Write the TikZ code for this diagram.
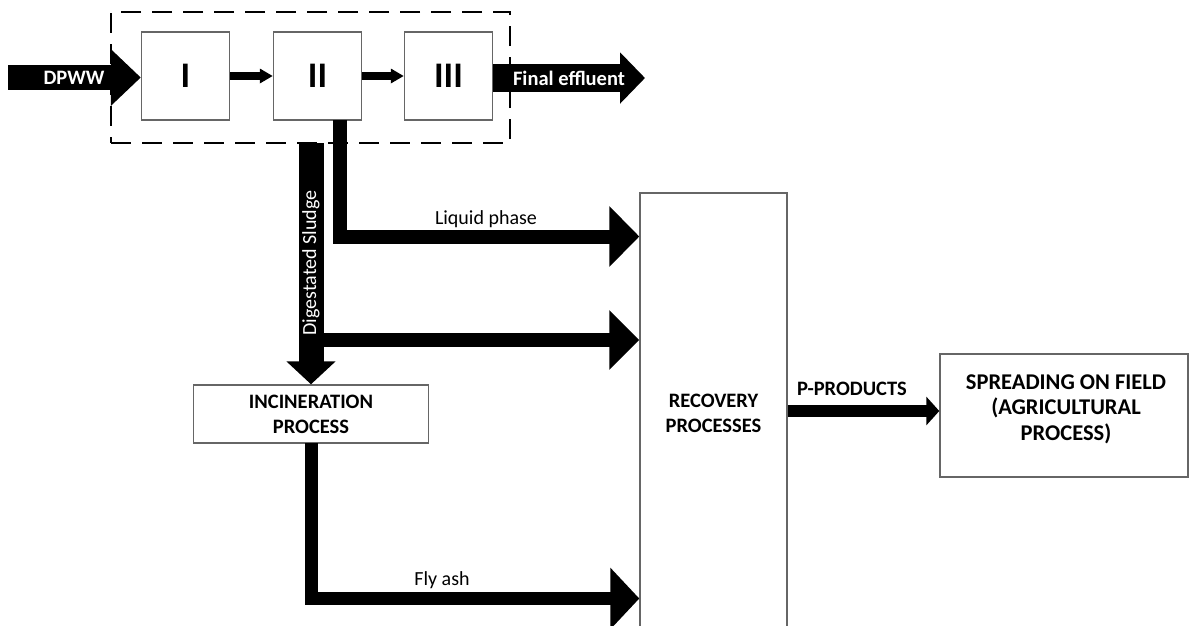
\documentclass[tikz,border=0pt]{standalone}
\usepackage{fontspec}
\setmainfont{Carlito}
\usetikzlibrary{arrows.meta,calc}
\begin{document}
\begin{tikzpicture}[x=1pt,y=-1pt,
  box/.style={draw=black!60, line width=1.4pt, fill=white, inner sep=0pt, align=center,
    font=\fontsize{20.5}{25}\selectfont\bfseries},
  roman/.style={box, minimum width=88pt, minimum height=88pt, font=\fontsize{36}{40}\selectfont\bfseries},
  lbl/.style={font=\fontsize{20}{24}\selectfont, inner sep=0pt},
  blbl/.style={font=\fontsize{20.5}{24}\selectfont\bfseries, inner sep=0pt},
  flow/.style n args={3}{draw=black, line width=#1, line join=miter,
    -{Triangle[length=#2, width=#3]}}
]
\useasboundingbox (0,0) rectangle (1190,625);

% dashed treatment frame
\node[draw=black, line width=2.5pt, dash pattern=on 20pt off 11pt, minimum width=399pt,
  minimum height=131pt, inner sep=0pt] (frame) at (310.5,77.5) {};

% process boxes
\node[roman] (b1) at (185.5,76) {I};
\node[roman] (b2) at (317.5,76) {II};
\node[roman] (b3) at (448.5,76) {III};

\node[box, minimum width=235pt, minimum height=58pt] (inc) at (311,414) {INCINERATION\\PROCESS};
\node[box, minimum width=147pt, minimum height=440pt] (rec) at (713.5,413) {RECOVERY\\PROCESSES};
\node[box, minimum width=248pt, minimum height=123pt] (spr) at (1064,415.5) {};
\node[align=center, inner sep=0pt, font=\fontsize{22.5}{25.5}\selectfont\bfseries] (sprt)
  at (1066,409) {SPREADING ON FIELD\\(AGRICULTURAL\\PROCESS)};

% coordinates
\coordinate (in0) at (8,77.5);
\coordinate (out1) at (645,78);
\coordinate (ds0) at (311,143);
\coordinate (ds1) at (323,340);
\coordinate (lp0) at (340,120);
\coordinate (lpy) at (0,236.5);
\coordinate (fa0) at (311,443);
\coordinate (fay) at (0,598.5);
\coordinate (ppy) at (0,411);

% flows
\draw[flow={25pt}{30pt}{55pt}] (in0) -- (b1.west |- in0);
\draw[flow={8pt}{13pt}{14pt}] (b1.east |- 0,76) -- (b2.west |- 0,76);
\draw[flow={8pt}{13pt}{14pt}] (b2.east |- 0,76) -- (b3.west |- 0,76);
\draw[flow={28pt}{25pt}{50pt}] (b3.east |- out1) -- (out1);

\draw[flow={25pt}{23pt}{48pt}] (ds0) -- (inc.north);
\draw[flow={14pt}{30pt}{59pt}] (lp0) |- (rec.west |- lpy);
\draw[flow={14pt}{30pt}{58pt}] (ds1) -- (rec.west |- ds1);
\draw[flow={13pt}{29pt}{60pt}] (fa0) |- (rec.west |- fay);
\draw[flow={12pt}{13pt}{28pt}] (rec.east |- ppy) -- (spr.west |- ppy);

% labels
\node[blbl, text=white] (tdp) at (74,78) {DPWW};
\node[blbl, text=white] (tfe) at (569,78) {Final effluent};
\node[lbl, text=white, rotate=90] (tds) at (311,263) {Digestated Sludge};
\node[lbl] (tlp) at (486,219) {Liquid phase};
\node[lbl] (tfa) at (442,580) {Fly ash};
\node[blbl] (tpp) at (852,389) {P-PRODUCTS};
\end{tikzpicture}
\end{document}
